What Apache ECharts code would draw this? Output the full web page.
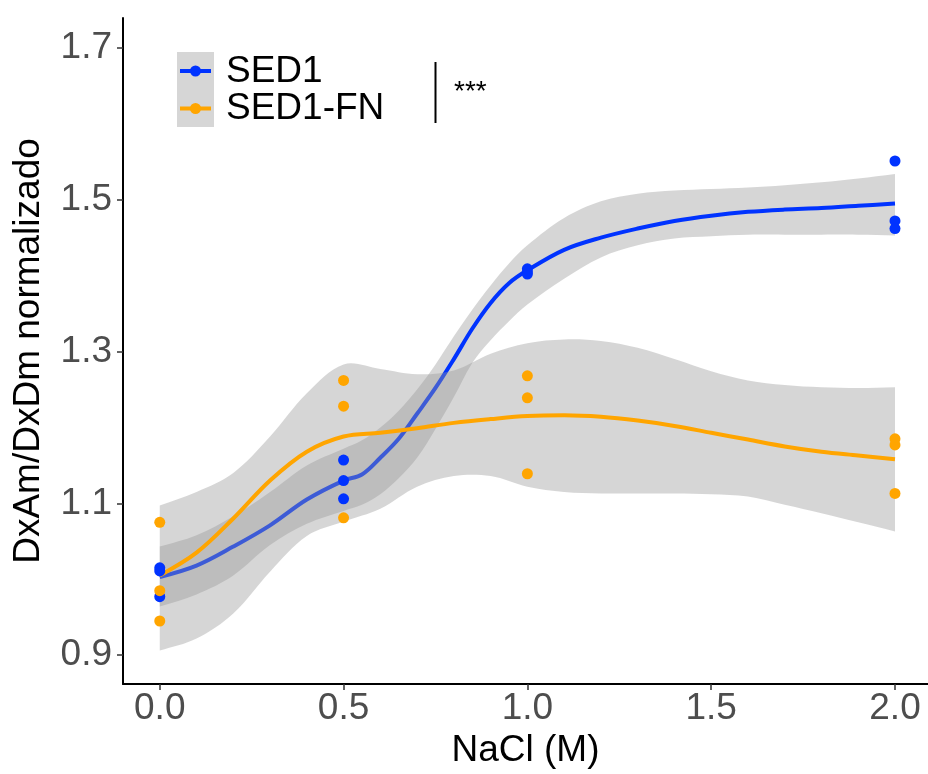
<!DOCTYPE html>
<html>
<head>
<meta charset="utf-8">
<script src="https://cdn.jsdelivr.net/npm/echarts@6/dist/echarts.min.js"></script>
<style>html,body{margin:0;padding:0;background:#fff}#c{width:928px;height:774px}</style>
</head>
<body>
<div id="c"></div>
<script>
// ---- data ----
const xTicks = [0, 0.5, 1.0, 1.5, 2.0];
const yTicks = [0.9, 1.1, 1.3, 1.5, 1.7];

// observed points
const sedX   = [0, 0, 0, 0.5, 0.5, 0.5, 1.0, 1.0, 1.0, 2.0, 2.0, 2.0];
const sedY   = [1.015, 1.011, 0.977, 1.157, 1.130, 1.106, 1.409, 1.405, 1.402, 1.551, 1.472, 1.462];
const fnX    = [0, 0, 0, 0.5, 0.5, 0.5, 1.0, 1.0, 1.0, 2.0, 2.0, 2.0];
const fnY    = [1.075, 0.985, 0.945, 1.262, 1.228, 1.081, 1.268, 1.239, 1.139, 1.185, 1.177, 1.113];

// smoothed fit of SED1 and its confidence band
const sedFitX = [0, 0.1, 0.2, 0.3, 0.4, 0.5, 0.55, 0.6, 0.65, 0.7, 0.75, 0.8, 0.85, 0.9, 0.95, 1.0, 1.1, 1.2, 1.3, 1.4, 1.5, 1.6, 1.7, 1.8, 1.9, 2.0];
const sedFit  = [1.003, 1.018, 1.043, 1.071, 1.105, 1.130, 1.138, 1.160, 1.185, 1.218, 1.252, 1.290, 1.330, 1.364, 1.390, 1.407, 1.434, 1.450, 1.462, 1.472, 1.479, 1.484, 1.487, 1.489, 1.492, 1.495];
const sedUp   = [1.043, 1.058, 1.083, 1.115, 1.150, 1.172, 1.183, 1.200, 1.222, 1.250, 1.283, 1.320, 1.355, 1.387, 1.416, 1.440, 1.476, 1.498, 1.508, 1.512, 1.514, 1.516, 1.519, 1.523, 1.528, 1.534];
const sedLo   = [0.964, 0.980, 1.005, 1.045, 1.073, 1.090, 1.098, 1.112, 1.133, 1.160, 1.198, 1.240, 1.285, 1.315, 1.340, 1.362, 1.396, 1.424, 1.440, 1.449, 1.452, 1.454, 1.454, 1.454, 1.454, 1.453];

// smoothed fit of SED1-FN and its confidence band
const fnFitX = [0, 0.1, 0.2, 0.3, 0.4, 0.5, 0.6, 0.7, 0.8, 0.9, 1.0, 1.1, 1.2, 1.3, 1.4, 1.5, 1.6, 1.7, 1.8, 1.9, 2.0];
const fnFit  = [1.005, 1.035, 1.080, 1.130, 1.168, 1.188, 1.193, 1.199, 1.206, 1.211, 1.215, 1.216, 1.214, 1.209, 1.202, 1.193, 1.184, 1.175, 1.168, 1.163, 1.158];
const fnUp   = [1.097, 1.115, 1.140, 1.188, 1.245, 1.283, 1.277, 1.270, 1.275, 1.297, 1.311, 1.316, 1.314, 1.305, 1.290, 1.274, 1.262, 1.256, 1.253, 1.252, 1.253];
const fnLo   = [0.906, 0.922, 0.955, 1.010, 1.057, 1.076, 1.093, 1.122, 1.136, 1.136, 1.122, 1.115, 1.113, 1.113, 1.113, 1.112, 1.109, 1.098, 1.087, 1.075, 1.063];

const seriesNames = ['SED1', 'SED1-FN'];
const colors = ['#0033FF', '#FFA500'];
const bandColor = 'rgba(153,153,153,0.4)';
const FONT = '"Liberation Sans", Arial, Helvetica, sans-serif';
const SMOOTH = 0.35;

const pairs = (xs, ys) => xs.map((x, i) => [x, ys[i]]);

// confidence band drawn as one polygon through the chart's own coordinate system
function bandSeries(xs, up, lo, z) {
  return {
    type: 'custom', z: z, silent: true, clip: true,
    data: xs.map((x, i) => [x, lo[i], up[i]]),
    encode: { x: 0, y: [1, 2] },
    renderItem: function (params, api) {
      if (params.dataIndex !== 0) return null;
      const upper = xs.map((x, i) => api.coord([x, up[i]]));
      const lower = xs.map((x, i) => api.coord([x, lo[i]])).reverse();
      // duplicate the corners so the smoothing keeps them sharp
      const pts = [upper[0]].concat(upper, [upper[upper.length - 1]], [lower[0]], lower, [lower[lower.length - 1]]);
      return { type: 'polygon', shape: { points: pts, smooth: SMOOTH }, style: { fill: bandColor } };
    }
  };
}

const chart = echarts.init(document.getElementById('c'), null, { renderer: 'canvas' });
const option = {
  animation: false,
  backgroundColor: '#fff',
  grid: { left: 123, top: 18, right: 0, bottom: 88, containLabel: false },
  xAxis: {
    type: 'value', min: -0.1, max: 2.0898,
    name: 'NaCl (M)', nameLocation: 'middle', nameGap: 48,
    nameTextStyle: { fontFamily: FONT, fontSize: 37, color: '#000' },
    axisLine: { show: true, onZero: false, lineStyle: { color: '#000', width: 2 } },
    axisTick: { show: true, length: 6, lineStyle: { color: '#333', width: 1.5 }, customValues: xTicks },
    axisLabel: { fontFamily: FONT, fontSize: 37, color: '#4D4D4D', margin: 6,
      customValues: xTicks, formatter: v => v.toFixed(1) },
    splitLine: { show: false }
  },
  yAxis: {
    type: 'value', min: 0.862, max: 1.7394,
    name: 'DxAm/DxDm normalizado', nameLocation: 'middle', nameGap: 76,
    nameTextStyle: { fontFamily: FONT, fontSize: 37, color: '#000' },
    axisLine: { show: true, onZero: false, lineStyle: { color: '#000', width: 2 } },
    axisTick: { show: true, length: 6, lineStyle: { color: '#333', width: 1.5 }, customValues: yTicks },
    axisLabel: { fontFamily: FONT, fontSize: 37, color: '#4D4D4D', margin: 11,
      customValues: yTicks, formatter: v => v.toFixed(1) },
    splitLine: { show: false }
  },
  series: [
    bandSeries(sedFitX, sedUp, sedLo, 1),
    { type: 'line', name: seriesNames[0], data: pairs(sedFitX, sedFit), smooth: SMOOTH, symbol: 'none',
      lineStyle: { color: colors[0], width: 4 }, z: 2 },
    bandSeries(fnFitX, fnUp, fnLo, 3),
    { type: 'line', name: seriesNames[1], data: pairs(fnFitX, fnFit), smooth: SMOOTH, symbol: 'none',
      lineStyle: { color: colors[1], width: 4 }, z: 4 },
    { type: 'scatter', data: pairs(sedX, sedY), symbolSize: 11, itemStyle: { color: colors[0], opacity: 1 }, z: 5 },
    { type: 'scatter', data: pairs(fnX, fnY), symbolSize: 11, itemStyle: { color: colors[1], opacity: 1 }, z: 5 }
  ],
  graphic: [
    { type: 'rect', shape: { x: 177, y: 52, width: 37, height: 75 }, style: { fill: '#D6D6D6' } },
    { type: 'line', shape: { x1: 180, y1: 71, x2: 211, y2: 71 }, style: { stroke: colors[0], lineWidth: 4 } },
    { type: 'circle', shape: { cx: 195.5, cy: 71, r: 5.5 }, style: { fill: colors[0] } },
    { type: 'line', shape: { x1: 180, y1: 108.5, x2: 211, y2: 108.5 }, style: { stroke: colors[1], lineWidth: 4 } },
    { type: 'circle', shape: { cx: 195.5, cy: 108.5, r: 5.5 }, style: { fill: colors[1] } },
    { type: 'text', x: 226, y: 72, style: { text: seriesNames[0], font: '37px ' + FONT, fill: '#000', verticalAlign: 'middle' } },
    { type: 'text', x: 226, y: 109, style: { text: seriesNames[1], font: '37px ' + FONT, fill: '#000', verticalAlign: 'middle' } },
    { type: 'line', shape: { x1: 435.5, y1: 62, x2: 435.5, y2: 123 }, style: { stroke: '#000', lineWidth: 2 } },
    { type: 'text', x: 454, y: 92, style: { text: '***', font: '28px ' + FONT, fill: '#000', verticalAlign: 'middle' } }
  ]
};
chart.setOption(option);
</script>
</body>
</html>
